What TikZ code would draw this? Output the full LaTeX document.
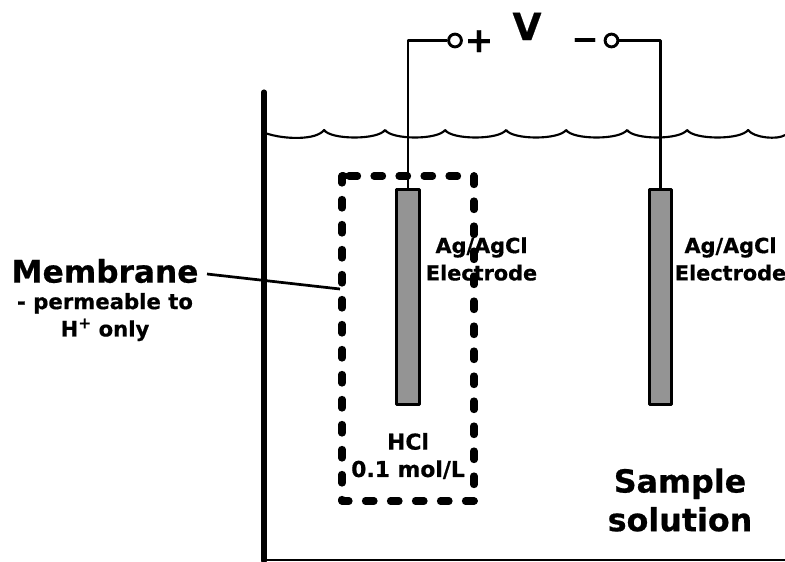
\documentclass[tikz,border=0pt]{standalone}
\usepackage{fontspec}
\setmainfont{DejaVu Sans}[BoldFont={DejaVu Sans Bold},BoldFeatures={FakeBold=0.6}]
\begin{document}
\begin{tikzpicture}[x=0.75pt,y=-0.75pt,line join=round,
  wire/.style={line width=2.05pt,draw=black},
  electrode/.style={draw=black,fill=black!42,line width=2.1pt,minimum width=17pt,minimum height=161.5pt,inner sep=0pt,outer sep=0pt},
  terminal/.style={circle,draw=black,fill=white,line width=2.2pt,minimum size=9.6pt,inner sep=0pt},
  lab/.style={font=\bfseries,align=center,inner sep=0pt,text=black},
  small/.style={lab,font=\bfseries\fontsize{15.6}{20.5}\selectfont},
  big/.style={lab,font=\bfseries\fontsize{23.4}{33}\selectfont}]
\useasboundingbox (0,0) rectangle (785,561);
% vessel
\draw[line width=3.8pt,line cap=round] (264,92) -- (264,561);
\draw[line width=1.7pt] (264,559.7) -- (785,559.7);
% liquid surface
\draw[line width=1.6pt] (265,133)
  .. controls (285,140) and (317,140) .. (324,130)
  .. controls (331,140) and (378,140) .. (385,130)
  .. controls (392,140) and (438,140) .. (445,130)
  .. controls (452,140) and (499,140) .. (506,130)
  .. controls (513,140) and (559,140) .. (566,130)
  .. controls (573,140) and (620,140) .. (627,130)
  .. controls (634,140) and (680,140) .. (687,130)
  .. controls (694,140) and (741,140) .. (748,130)
  .. controls (754,138) and (778,140) .. (785,135);
% electrodes and terminals
\node[electrode] (eL) at (408,297) {};
\node[electrode] (eR) at (660.5,297) {};
\node[terminal] (tL) at (455,40.5) {};
\node[terminal] (tR) at (611.5,40.5) {};
\draw[wire] (tL.west) -- (408,40.5) -- (eL.north);
\draw[wire] (tR.east) -- (660.5,40.5) -- (eR.north);
% membrane
\draw[line width=5.4pt,line cap=round,dash pattern=on 6.4pt off 12.35pt]
  (349,176) -- (474,176) -- (474,501) -- (342,501) -- (342,176) -- (349,176);
\coordinate (mem) at (340,289);
% labels
\node[lab,font=\bfseries\fontsize{28}{30}\selectfont,anchor=base] at (527,40) {V};
\node[lab,font=\bfseries\fontsize{26}{30}\selectfont,anchor=base] at (479,52) {+};
\node[lab,font=\bfseries\fontsize{24}{30}\selectfont,anchor=base] at (585,50) {−};
\node[big] (mlabel) at (105,271) {Membrane};
\coordinate (ms) at (207,274);
\draw[wire] (ms) -- (mem);
\node[small,font=\bfseries\fontsize{15.9}{20.5}\selectfont] at (105,317) {- permeable to\\H\raisebox{.7ex}{\fontsize{11.5}{11.5}\selectfont +} only};
\node[small] at (481.5,259) {Ag/AgCl\\Electrode};
\node[small] at (730.5,259) {Ag/AgCl\\Electrode};
\node[small,font=\bfseries\fontsize{16.4}{20.5}\selectfont] at (408,456) {HCl\\0.1 mol/L};
\node[big,font=\bfseries\fontsize{23.8}{29}\selectfont] at (680,500) {Sample\\solution};
\end{tikzpicture}
\end{document}
